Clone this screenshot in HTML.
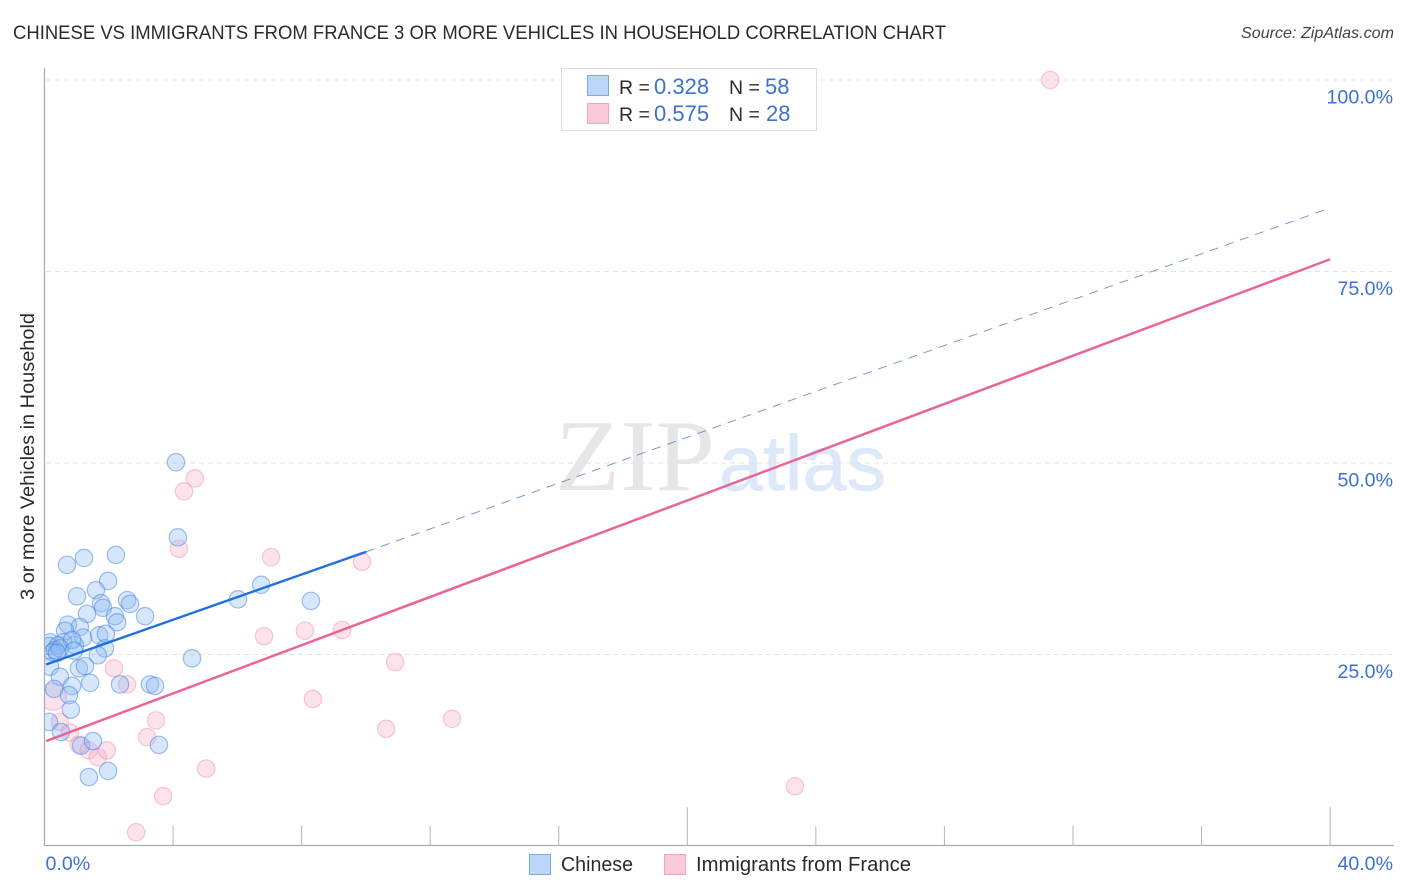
<!DOCTYPE html>
<html lang="en">
<head>
<meta charset="utf-8">
<title>Chinese vs Immigrants from France 3 or More Vehicles in Household Correlation Chart</title>
<style>
html,body{margin:0;padding:0;background:#fff;width:1406px;height:892px;overflow:hidden}
svg{display:block;font-family:"Liberation Sans",sans-serif}
</style>
</head>
<body>
<svg id="chart" width="1406" height="892" viewBox="0 0 1406 892" xmlns="http://www.w3.org/2000/svg">
  <defs>
    <clipPath id="plot-clip"><rect x="45" y="60" width="1349" height="786"/></clipPath>
  </defs>
  <rect x="0" y="0" width="1406" height="892" fill="#ffffff"/>
  <text x="13" y="39" font-size="19.5" fill="#2b2b2b" textLength="933" lengthAdjust="spacingAndGlyphs">CHINESE VS IMMIGRANTS FROM FRANCE 3 OR MORE VEHICLES IN HOUSEHOLD CORRELATION CHART</text>
  <text x="1394" y="38" font-size="16" font-style="italic" fill="#444" text-anchor="end" textLength="153" lengthAdjust="spacingAndGlyphs">Source: ZipAtlas.com</text>
  <g id="watermark">
    <text x="555" y="490" font-family="'Liberation Serif',serif" font-size="102" fill="#e6e6e6" textLength="160" lengthAdjust="spacingAndGlyphs">ZIP</text>
    <text x="719" y="490" font-size="78" fill="#dde8f8" stroke="#dde8f8" stroke-width="0.8" textLength="167" lengthAdjust="spacingAndGlyphs">atlas</text>
  </g>
  <g id="grid"></g>
  <g id="axes"></g>
  <g id="points" clip-path="url(#plot-clip)"></g>
  <g id="trends"></g>
  <g id="ylabels"></g>
  <g id="xlabels"></g>
  <text transform="translate(34 456.5) rotate(-90)" font-size="19.5" fill="#2b2b2b" text-anchor="middle" textLength="287" lengthAdjust="spacingAndGlyphs">3 or more Vehicles in Household</text>

  <g>
    <rect x="561.5" y="68.5" width="255" height="62" fill="#fff" stroke="#dddddd" stroke-width="1"/>
    <rect x="587.5" y="75.5" width="21" height="20" fill="#bad6f9" stroke="#7fa9e0" stroke-width="1"/>
    <rect x="587.5" y="103.5" width="21" height="20" fill="#fcc9d8" stroke="#f0a3bb" stroke-width="1"/>
    <text x="619" y="94" font-size="19.5" fill="#2b2b2b">R =</text>
    <text x="654" y="94" font-size="22" fill="#3a72cf">0.328</text>
    <text x="729" y="94" font-size="19.5" fill="#2b2b2b">N =</text>
    <text x="765" y="94" font-size="22" fill="#3a72cf">58</text>
    <text x="619" y="121" font-size="19.5" fill="#2b2b2b">R =</text>
    <text x="654" y="121" font-size="22" fill="#3a72cf">0.575</text>
    <text x="729" y="121" font-size="19.5" fill="#2b2b2b">N =</text>
    <text x="766" y="121" font-size="22" fill="#3a72cf">28</text>
  </g>

  <g>
    <g>
      <rect x="529.5" y="854.5" width="21" height="20" fill="#bad6f9" stroke="#7fa9e0" stroke-width="1"/>
      <text x="561" y="871" font-size="20" fill="#2b2b2b" textLength="72" lengthAdjust="spacingAndGlyphs">Chinese</text>
    </g>
    <g>
      <rect x="664.5" y="854.5" width="21" height="20" fill="#fcc9d8" stroke="#f0a3bb" stroke-width="1"/>
      <text x="696" y="871" font-size="20" fill="#2b2b2b" textLength="215" lengthAdjust="spacingAndGlyphs">Immigrants from France</text>
    </g>
  </g>
</svg>
<script>
const yTickValues = [25, 50, 75, 100];
const yTickLabels = ['25.0%', '50.0%', '75.0%', '100.0%'];
const xTickValues = [4, 8, 12, 16, 20, 24, 28, 32, 36, 40];
const xEndValues = [0, 40];
const xEndLabels = ['0.0%', '40.0%'];

const chineseX = [4.15,4.09,0.70,1.23,2.22,1.98,1.60,1.01,1.76,1.82,2.57,2.66,3.13,2.19,2.26,1.32,0.73,1.10,0.64,1.20,1.70,1.91,1.88,1.66,0.95,6.02,4.59,6.74,8.29,0.17,0.14,0.58,0.42,0.33,0.26,0.48,0.39,0.17,0.48,1.07,1.26,0.86,1.42,2.35,3.28,3.44,0.30,0.76,0.82,0.14,0.51,1.14,1.51,3.56,1.98,1.38,0.86,0.92];
const chineseY = [40.3,50.1,36.7,37.6,38.0,34.6,33.4,32.6,31.7,31.1,32.1,31.6,30.0,30.0,29.2,30.3,28.9,28.6,28.1,27.2,27.5,27.7,25.8,24.9,26.2,32.2,24.5,34.1,32.0,26.6,26.1,26.6,26.2,25.6,25.3,25.8,25.2,23.4,22.1,23.2,23.5,20.9,21.3,21.1,21.1,20.9,20.5,19.7,17.8,16.2,14.9,13.1,13.7,13.2,9.8,9.0,26.9,25.5];

const franceX = [31.29,4.68,4.34,4.18,7.05,9.88,6.83,8.10,9.26,10.91,2.16,2.57,0.26,8.35,3.47,0.48,12.68,10.63,3.19,0.79,1.07,1.38,1.66,1.94,5.03,3.69,2.85,23.35];
const franceY = [100.0,48.0,46.3,38.8,37.7,37.1,27.4,28.1,28.2,24.0,23.2,21.1,19.5,19.2,16.4,16.2,16.6,15.3,14.2,14.8,13.2,12.5,11.6,12.5,10.1,6.5,1.8,7.8];
const franceWeight = [1,1,1,1,1,1,1,1,1,1,1,1,2.4,1,1,1,1,1,1,1,1,1,1,1,1,1,1,1];

const chineseTrendX = [0.05, 10.0];
const chineseTrendY = [23.7, 38.4];
const chineseDashX = [10.0, 40.0];
const chineseDashY = [38.4, 83.3];
const franceTrendX = [0.05, 40.0];
const franceTrendY = [13.7, 76.6];

const NS = 'http://www.w3.org/2000/svg';
function xScale(v) { return 44.5 + v * 32.14; }
function yScale(v) { return 846 - v * 7.66; }
function make(tag, attrs, parent) {
  const el = document.createElementNS(NS, tag);
  for (const k in attrs) el.setAttribute(k, attrs[k]);
  parent.appendChild(el);
  return el;
}

const gridG = document.getElementById('grid');
const axesG = document.getElementById('axes');
const pointsG = document.getElementById('points');
const trendsG = document.getElementById('trends');
const yLabelsG = document.getElementById('ylabels');
const xLabelsG = document.getElementById('xlabels');

yTickValues.forEach(function (v, i) {
  const line = make('line', {x1: 46, x2: 1394, y1: yScale(v), y2: yScale(v), stroke: '#e2e2e2', 'stroke-width': 1, 'stroke-dasharray': '5 4'}, gridG);
  
  
  const label = make('text', {x: 1393, y: yScale(v) + 23.5, 'font-size': 19.6, fill: '#3a72cf', 'text-anchor': 'end'}, yLabelsG);
  label.textContent = yTickLabels[i];
  
  
});

const yAxis = make('line', {x1: 44.5, x2: 44.5, y1: 68, y2: 846, stroke: '#aaaaaa', 'stroke-width': 1.2}, axesG);


const xAxis = make('line', {x1: 44, x2: 1394, y1: 845.5, y2: 845.5, stroke: '#aaaaaa', 'stroke-width': 1.2}, axesG);



xTickValues.forEach(function (v, i) {
  const tall = (i + 1) % 5 === 0;
  const tick = make('line', {x1: xScale(v), x2: xScale(v), y1: tall ? 807 : 826, y2: 846, stroke: '#b5b5b5', 'stroke-width': 1}, axesG);
  
  
});

xEndValues.forEach(function (v, i) {
  const label = make('text', {x: i === 0 ? xScale(v) + 1 : 1393, y: 870, 'font-size': 19.6, fill: '#3a72cf', 'text-anchor': i === 0 ? 'start' : 'end'}, xLabelsG);
  label.textContent = xEndLabels[i];
  
  
});

franceX.forEach(function (v, i) {
  const c = make('circle', {cx: xScale(v), cy: yScale(franceY[i]), r: 8.7 * Math.sqrt(franceWeight[i]), fill: 'rgba(248,175,198,0.36)', stroke: 'rgba(235,130,170,0.42)', 'stroke-width': 1.2}, pointsG);
  
  
});

chineseX.forEach(function (v, i) {
  const c = make('circle', {cx: xScale(v), cy: yScale(chineseY[i]), r: 8.7, fill: 'rgba(140,185,243,0.36)', stroke: 'rgba(60,125,220,0.48)', 'stroke-width': 1.2}, pointsG);
  
  
});

const dash = make('line', {x1: xScale(chineseDashX[0]), y1: yScale(chineseDashY[0]), x2: xScale(chineseDashX[1]), y2: yScale(chineseDashY[1]), stroke: '#6f97d8', 'stroke-width': 1, 'stroke-dasharray': '9 7'}, trendsG);


const solidBlue = make('line', {x1: xScale(chineseTrendX[0]), y1: yScale(chineseTrendY[0]), x2: xScale(chineseTrendX[1]), y2: yScale(chineseTrendY[1]), stroke: '#1f6fdc', 'stroke-width': 2.4}, trendsG);


const solidPink = make('line', {x1: xScale(franceTrendX[0]), y1: yScale(franceTrendY[0]), x2: xScale(franceTrendX[1]), y2: yScale(franceTrendY[1]), stroke: '#e8659a', 'stroke-width': 2.5}, trendsG);


</script>
</body>
</html>
